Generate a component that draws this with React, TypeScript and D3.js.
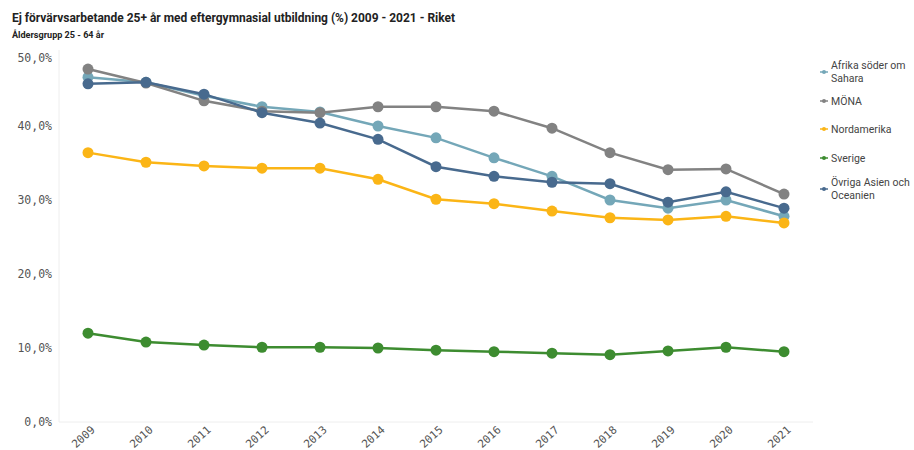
import React, { useEffect, useRef } from "react";
import * as d3 from "d3";

const years = ["2009","2010","2011","2012","2013","2014","2015","2016","2017","2018","2019","2020","2021"];

const afrika = [46.6, 45.9, 44.1, 42.6, 41.9, 40.0, 38.4, 35.7, 33.2, 30.0, 28.9, 30.0, 27.8];
const mona = [47.7, 45.8, 43.4, 42.0, 41.8, 42.6, 42.6, 42.0, 39.7, 36.4, 34.1, 34.2, 30.8];
const nordamerika = [36.4, 35.1, 34.6, 34.3, 34.3, 32.8, 30.1, 29.5, 28.5, 27.6, 27.3, 27.8, 26.9];
const sverige = [12.0, 10.8, 10.4, 10.1, 10.1, 10.0, 9.7, 9.5, 9.3, 9.1, 9.6, 10.1, 9.5];
const ovriga = [45.7, 45.9, 44.3, 41.8, 40.4, 38.2, 34.5, 33.2, 32.4, 32.2, 29.7, 31.1, 28.9];

const yTicks = [0, 10, 20, 30, 40, 50];

const series = [
  { name: ["Afrika söder om", "Sahara"], values: afrika, color: "#74a7b8" },
  { name: ["MÖNA"], values: mona, color: "#828282" },
  { name: ["Nordamerika"], values: nordamerika, color: "#fbb516" },
  { name: ["Sverige"], values: sverige, color: "#3d8c30" },
  { name: ["Övriga Asien och", "Oceanien"], values: ovriga, color: "#486a8e" },
];

const legendY = [72, 101, 129, 158, 189];

export default function App() {
  const svgRef = useRef<SVGSVGElement | null>(null);

  useEffect(() => {
    document.body.style.margin = "0";
    const width = 914;
    const height = 450;
    const margin = { top: 52, right: 101, bottom: 28, left: 59 };

    const svg = d3.select(svgRef.current).attr("width", width).attr("height", height);
    svg.selectAll("*").remove();

    const x = d3
      .scalePoint<string>()
      .domain(years)
      .range([margin.left, width - margin.right])
      .padding(0.5);
    const y = d3
      .scaleLinear()
      .domain([0, 50])
      .range([height - margin.bottom, margin.top]);

    // Title
    svg
      .append("text")
      .attr("x", 12)
      .attr("y", 22)
      .attr("textLength", 443)
      .attr("lengthAdjust", "spacingAndGlyphs")
      .style("font-family", "Roboto, sans-serif")
      .style("font-size", "13px")
      .style("font-weight", "bold")
      .style("fill", "#222")
      .text("Ej förvärvsarbetande 25+ år med eftergymnasial utbildning (%) 2009 - 2021 - Riket");
    svg
      .append("text")
      .attr("x", 12)
      .attr("y", 38)
      .attr("textLength", 92)
      .attr("lengthAdjust", "spacingAndGlyphs")
      .style("font-family", "Roboto, sans-serif")
      .style("font-size", "9px")
      .style("font-weight", "bold")
      .style("fill", "#222")
      .text("Åldersgrupp 25 - 64 år");

    // Axes lines
    svg
      .append("line")
      .attr("x1", margin.left)
      .attr("x2", margin.left)
      .attr("y1", margin.top - 2)
      .attr("y2", y(0))
      .attr("stroke", "#eeeeee");
    svg
      .append("line")
      .attr("x1", margin.left)
      .attr("x2", width - margin.right)
      .attr("y1", y(0))
      .attr("y2", y(0))
      .attr("stroke", "#eeeeee");

    // Y tick labels
    svg
      .append("g")
      .selectAll("text")
      .data(yTicks)
      .enter()
      .append("text")
      .attr("x", 52)
      .attr("y", (d) => Math.max(y(d), 58))
      .attr("dy", "0.35em")
      .attr("text-anchor", "end")
      .style("font-family", "'DejaVu Sans Mono', monospace")
      .style("font-size", "11.5px")
      .style("fill", "#555")
      .text((d) => d3.format(".1f")(d).replace(".", ",") + "%");

    // X tick labels
    svg
      .append("g")
      .selectAll("text")
      .data(years)
      .enter()
      .append("text")
      .attr("transform", (d) => `translate(${(x(d) as number) + 5},${y(0) + 6}) rotate(-42)`)
      .attr("text-anchor", "end")
      .attr("dy", "0.35em")
      .style("font-family", "'DejaVu Sans Mono', monospace")
      .style("font-size", "11px")
      .style("fill", "#555")
      .text((d) => d);

    // Lines and points
    const line = d3
      .line<number>()
      .x((_, i) => x(years[i]) as number)
      .y((d) => y(d));

    series.forEach((s) => {
      const g = svg.append("g");
      g.append("path")
        .datum(s.values)
        .attr("d", line)
        .attr("fill", "none")
        .attr("stroke", s.color)
        .attr("stroke-width", 2.5);
      g.selectAll("circle")
        .data(s.values)
        .enter()
        .append("circle")
        .attr("cx", (_, i) => x(years[i]) as number)
        .attr("cy", (d) => y(d))
        .attr("r", 5.5)
        .attr("fill", s.color);
    });

    // Legend
    const legend = svg.append("g");
    series.forEach((s, i) => {
      const ly = legendY[i];
      legend
        .append("line")
        .attr("x1", 820)
        .attr("x2", 828)
        .attr("y1", ly)
        .attr("y2", ly)
        .attr("stroke", s.color)
        .attr("stroke-width", 1.5);
      legend
        .append("circle")
        .attr("cx", 824)
        .attr("cy", ly)
        .attr("r", 2)
        .attr("fill", s.color);
      const lines = s.name;
      const startY = ly - ((lines.length - 1) * 13) / 2;
      lines.forEach((t, j) => {
        legend
          .append("text")
          .attr("x", 831)
          .attr("y", startY + j * 13)
          .attr("dy", "0.35em")
          .style("font-family", "Roboto, sans-serif")
          .style("font-size", "10.5px")
          .style("fill", "#444")
          .text(t);
      });
    });
  }, []);

  return <svg ref={svgRef} style={{ display: "block" }}></svg>;
}
